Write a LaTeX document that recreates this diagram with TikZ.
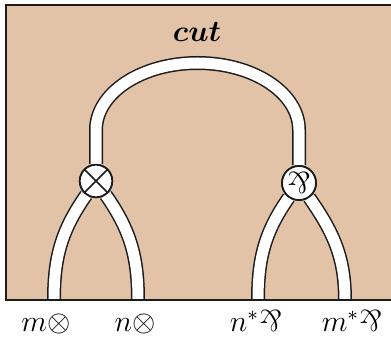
\documentclass[tikz,border=0pt]{standalone}
\usepackage{amsmath}
\usepackage{amssymb}
\usepackage{bm}
\usepackage{graphicx}
\usetikzlibrary{positioning}
\definecolor{sheet}{HTML}{E2C3A8}
\definecolor{ink}{HTML}{1C1C1C}
\newcommand{\parrsym}{\mathord{\rotatebox[origin=c]{180}{$\&$}}}
\tikzset{
  wire/.style={draw=ink, line width=0.6pt, double=white, double distance=4.4pt},
  linkbox/.style={circle, draw=ink, line width=0.7pt, fill=white,
    minimum size=13pt, inner sep=0pt},
  leglabel/.style={font=\large, anchor=base},
}

\begin{document}
\begin{tikzpicture}[x=0.4pt, y=0.4pt]
  \useasboundingbox (0,0) rectangle (391,346);
  \fill[sheet] (6,46) rectangle (400,341);

  \node[linkbox] (tens) at (96,165) {};
  \node[linkbox, minimum size=13.6pt] (parr) at (299,163) {};
  \coordinate (archL) at (96,216);
  \coordinate (archR) at (299,216);
  \coordinate (m1) at (54,46);
  \coordinate (n1) at (138,46);
  \coordinate (n2) at (258,46);
  \coordinate (m2) at (345,46);

  % wires
  \draw[wire] (tens) -- (archL) arc[start angle=180, end angle=0,
    x radius=101.5, y radius=67] -- (parr);
  \draw[wire] (tens) to[out=235, in=90] (m1);
  \draw[wire] (tens) to[out=-55, in=90] (n1);
  \draw[wire] (parr) to[out=235, in=90] (n2);
  \draw[wire] (parr) to[out=-55, in=90] (m2);

  \draw[ink, line width=0.8pt] (400,46) -- (6,46) -- (6,341) -- (400,341);

  \node[linkbox] at (tens) {};
  \draw[ink, line width=0.7pt] (tens.45) -- (tens.225) (tens.135) -- (tens.315);
  \node[linkbox, minimum size=13.6pt] at (parr) {\scalebox{1.2}{$\parrsym$}};

  \node[font=\large] (cut) at (197,314) {$\bm{cut}$};
  \node[leglabel] (lm1) at (46,15) {$m\otimes$};
  \node[leglabel] (ln1) at (135,15) {$n\otimes$};
  \node[leglabel] (ln2) at (256,15) {$n^{*}\parrsym$};
  \node[leglabel] (lm2) at (352,15) {$m^{*}\parrsym$};
\end{tikzpicture}
\end{document}
